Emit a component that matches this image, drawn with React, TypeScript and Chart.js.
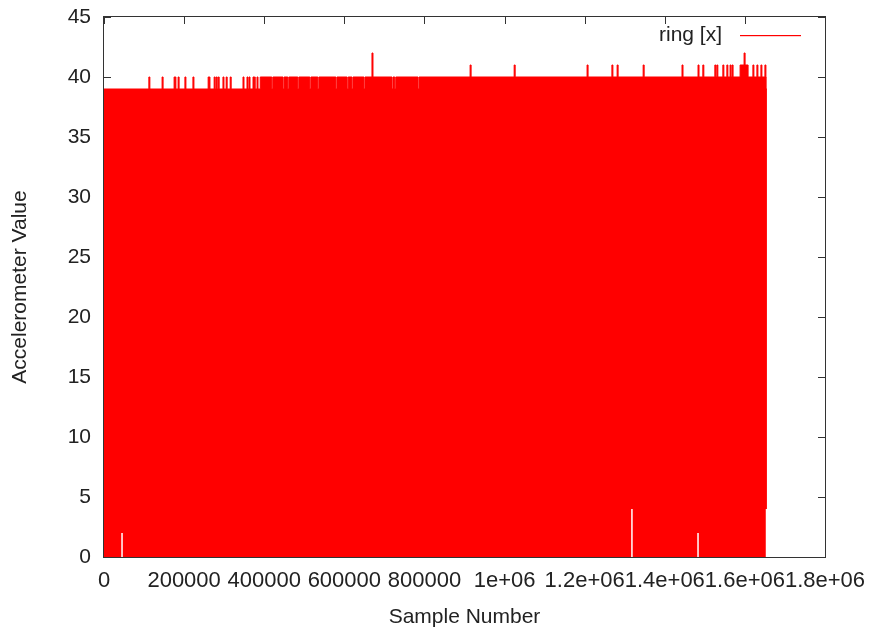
import { useEffect, useRef } from 'react';
import { Chart, registerables } from 'chart.js';

Chart.register(...registerables);

const SERIES_LABEL = 'ring [x]';
const X_TITLE = 'Sample Number';
const Y_TITLE = 'Accelerometer Value';

const X_TICK_VALUES = [0, 200000, 400000, 600000, 800000, 1000000, 1200000, 1400000, 1600000, 1800000];
const X_TICK_LABELS = ['0', '200000', '400000', '600000', '800000', '1e+06', '1.2e+06', '1.4e+06', '1.6e+06', '1.8e+06'];
const Y_TICK_VALUES = [0, 5, 10, 15, 20, 25, 30, 35, 40, 45];

// upper envelope of the (dense) signal: base level per range
const LEVEL_START = [0, 390000, 1653000];
const LEVEL_VALUE = [39, 40, 39];
const DATA_END = 1655000;

// samples where the envelope reaches 40 while the base level is 39
const SPIKE40 = [112000, 145000, 175000, 177000, 185000, 202000, 222000, 260000, 262000, 275000, 280000, 285000, 297000, 305000, 315000, 347000, 357000, 362000, 372000, 375000, 382000];
// samples where the envelope only reaches 39 while the base level is 40
const DIP39 = [419000, 447000, 459000, 484000, 514000, 534000, 579000, 607000, 619000, 649000, 719000, 726000, 784000];
// samples where the envelope reaches 41
const SPIKE41 = [914000, 1024000, 1206000, 1268000, 1281000, 1346000, 1443000, 1483000, 1495000, 1525000, 1530000, 1545000, 1555000, 1563000, 1568000, 1620000, 1630000, 1640000, 1650000];
// a run of samples at 41
const BLOCK41_START = [1588000];
const BLOCK41_END = [1608000];
// samples where the envelope reaches 42
const SPIKE42 = [669000, 1598000];

// samples where the signal's minimum stays above zero
const GAP_X = [45000, 1318000, 1483000, 1654000];
const GAP_TOP = [2, 4, 2, 4];

const BIN = 2500; // width of one sample bin on the x scale
const SERIES_COLOR = '#ff0000';

type Mark = { s: number; e: number; v: number; dip?: boolean };

function buildEnvelope() {
  const marks: Mark[] = [];
  SPIKE40.forEach((x) => marks.push({ s: x, e: x + BIN, v: 40 }));
  DIP39.forEach((x) => marks.push({ s: x, e: x + BIN, v: 39, dip: true }));
  SPIKE41.forEach((x) => marks.push({ s: x, e: x + BIN, v: 41 }));
  BLOCK41_START.forEach((x, i) => marks.push({ s: x, e: BLOCK41_END[i], v: 41 }));
  SPIKE42.forEach((x) => marks.push({ s: x, e: x + BIN, v: 42 }));
  const bps = new Set<number>(LEVEL_START);
  marks.forEach((m) => {
    bps.add(m.s);
    bps.add(m.e);
  });
  const baseAt = (x: number) => {
    let v = LEVEL_VALUE[0];
    LEVEL_START.forEach((s, i) => {
      if (x >= s) v = LEVEL_VALUE[i];
    });
    return v;
  };
  const valueAt = (x: number) => {
    let v = baseAt(x);
    marks.forEach((m) => {
      if (x >= m.s && x < m.e && m.dip) v = Math.min(v, m.v);
    });
    marks.forEach((m) => {
      if (x >= m.s && x < m.e && !m.dip) v = Math.max(v, m.v);
    });
    return v;
  };
  const sorted = Array.from(bps).filter((b) => b < DATA_END).sort((a, b) => a - b);
  const pts = sorted.map((b) => ({ x: b, y: valueAt(b) }));
  pts.push({ x: DATA_END, y: valueAt(DATA_END - 1) });
  return pts;
}

function buildGaps() {
  const pts: { x: number; y: number | null }[] = [];
  GAP_X.forEach((x, i) => {
    pts.push({ x, y: 0 });
    pts.push({ x, y: GAP_TOP[i] });
    pts.push({ x, y: null });
  });
  return pts;
}

const FONT_FAMILY = '"Liberation Sans", Arial, sans-serif';
const FONT_SIZE = 21;
const X_TICK_FONT_SIZE = 22;
const TEXT_COLOR = '#222';
const FRAME_COLOR = '#333';

const framePlugin = {
  id: 'gnuFrame',
  beforeDatasetsDraw(chart: any) {
    const { ctx, chartArea: a, scales } = chart;
    const len = 7;
    ctx.save();
    ctx.strokeStyle = FRAME_COLOR;
    ctx.lineWidth = 1;
    ctx.beginPath();
    X_TICK_VALUES.forEach((v) => {
      const x = Math.round(scales.x.getPixelForValue(v)) + 0.5;
      ctx.moveTo(x, a.bottom);
      ctx.lineTo(x, a.bottom - len);
      ctx.moveTo(x, a.top);
      ctx.lineTo(x, a.top + len);
    });
    Y_TICK_VALUES.forEach((v) => {
      const y = Math.round(scales.y.getPixelForValue(v)) + 0.5;
      ctx.moveTo(a.left, y);
      ctx.lineTo(a.left + len, y);
      ctx.moveTo(a.right, y);
      ctx.lineTo(a.right - len, y);
    });
    ctx.stroke();
    ctx.restore();
  },
  afterDatasetsDraw(chart: any) {
    const { ctx, chartArea: a } = chart;
    ctx.save();
    ctx.strokeStyle = FRAME_COLOR;
    ctx.lineWidth = 1;
    ctx.strokeRect(a.left - 0.5, a.top - 0.5, a.right - a.left + 1, a.bottom - a.top + 1);
    // legend (gnuplot style, inside top-right)
    const ds = chart.data.datasets[0];
    ctx.font = `${FONT_SIZE}px ${FONT_FAMILY}`;
    ctx.fillStyle = TEXT_COLOR;
    ctx.textAlign = 'right';
    ctx.textBaseline = 'middle';
    ctx.fillText(ds.label, a.right - 103, a.top + 18);
    ctx.fillStyle = SERIES_COLOR;
    ctx.fillRect(a.right - 85, a.top + 18, 61, 1.2);
    ctx.restore();
  },
};

export default function App() {
  const ref = useRef<HTMLCanvasElement | null>(null);
  useEffect(() => {
    if (!ref.current) return;
    const font = { family: FONT_FAMILY, size: FONT_SIZE };
    const chart = new Chart(ref.current, {
      type: 'line',
      data: {
        datasets: [
          {
            label: SERIES_LABEL,
            data: buildEnvelope(),
            stepped: true,
            borderColor: SERIES_COLOR,
            backgroundColor: SERIES_COLOR,
            borderWidth: 1,
            pointRadius: 0,
            fill: 'origin',
            order: 2,
          },
          {
            label: 'gaps',
            data: buildGaps() as any,
            borderColor: '#ffffff',
            borderWidth: 1.5,
            pointRadius: 0,
            fill: false,
            spanGaps: false,
            order: 1,
          },
        ],
      },
      options: {
        responsive: false,
        animation: false,
        parsing: false as any,
        normalized: true,
        layout: { padding: { top: 17, right: 47, left: 0, bottom: 0 } },
        plugins: {
          legend: { display: false },
          tooltip: { enabled: false },
        },
        scales: {
          x: {
            type: 'linear',
            min: 0,
            max: 1800000,
            grid: { display: false, drawTicks: false },
            border: { display: false },
            afterBuildTicks: (s: any) => {
              s.ticks = X_TICK_VALUES.map((v) => ({ value: v }));
            },
            afterFit: (s: any) => {
              s.height = 78;
              s.paddingLeft = 0;
              s.paddingRight = 0;
            },
            ticks: {
              autoSkip: false,
              maxRotation: 0,
              minRotation: 0,
              padding: 11,
              color: TEXT_COLOR,
              font: { family: FONT_FAMILY, size: X_TICK_FONT_SIZE },
              callback: (v: any) => {
                const i = X_TICK_VALUES.indexOf(Number(v));
                return i >= 0 ? X_TICK_LABELS[i] : '';
              },
            },
            title: { display: true, text: X_TITLE, color: TEXT_COLOR, font, padding: { top: 0, bottom: 5 } },
          },
          y: {
            type: 'linear',
            min: 0,
            max: 45,
            grid: { display: false, drawTicks: false },
            border: { display: false },
            afterBuildTicks: (s: any) => {
              s.ticks = Y_TICK_VALUES.map((v) => ({ value: v }));
            },
            afterFit: (s: any) => {
              s.width = 104;
              s.paddingTop = 0;
              s.paddingBottom = 0;
            },
            ticks: { padding: 13, color: TEXT_COLOR, font },
            title: { display: true, text: Y_TITLE, color: TEXT_COLOR, font, padding: { top: 8, bottom: 0 } },
          },
        },
      },
      plugins: [framePlugin],
    });
    return () => chart.destroy();
  }, []);
  return (
    <canvas
      ref={ref}
      width={872}
      height={635}
      style={{ position: 'absolute', left: 0, top: 0, display: 'block' }}
    />
  );
}
